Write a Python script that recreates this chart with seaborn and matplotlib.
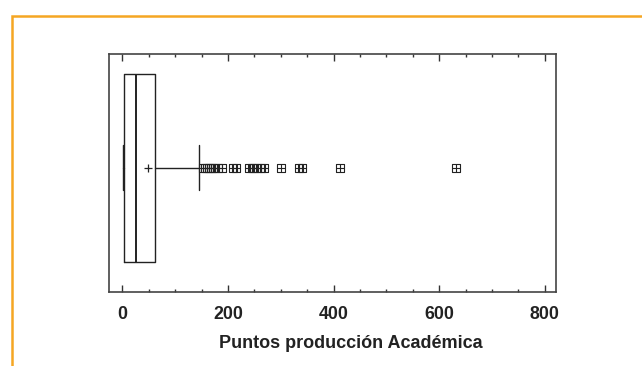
import numpy as np
import matplotlib
matplotlib.use("Agg")
import matplotlib.pyplot as plt
from matplotlib.path import Path
from matplotlib.patches import Rectangle
import seaborn as sns

# STYLE SETTINGS
sns.set_style("ticks")
plt.rcParams['font.family'] = ['Liberation Sans', 'DejaVu Sans']

# DATA (summary)
label = "Puntos producción Académica"
whisker_low = 0.5
q1 = 3
median = 25
mean = 48
q3 = 62
whisker_high = 145
outliers = [152, 156, 160, 164, 168, 172, 176, 182, 188,
            210, 216,
            240, 245, 250, 255, 262, 268,
            301, 335, 340, 413, 631]
xticks = [0, 200, 400, 600, 800]

stats = [{
    'whislo': whisker_low, 'q1': q1, 'med': median, 'mean': mean,
    'q3': q3, 'whishi': whisker_high, 'fliers': outliers, 'label': label,
}]

# square with a cross inside, used for the outliers
sq_plus = Path(
    [(-1, -1), (1, -1), (1, 1), (-1, 1), (-1, -1),
     (-1, 0), (1, 0), (0, -1), (0, 1)],
    [Path.MOVETO, Path.LINETO, Path.LINETO, Path.LINETO, Path.CLOSEPOLY,
     Path.MOVETO, Path.LINETO, Path.MOVETO, Path.LINETO]
)

fig = plt.figure(figsize=(6.42, 3.66), dpi=100)
ax = fig.add_axes([0.170, 0.2022, 0.696, 0.650])

line_c = '#222222'
ax.bxp(
    stats, positions=[1], widths=0.79, vert=False, showmeans=True,
    showfliers=True, capwidths=0.19,
    boxprops=dict(color=line_c, linewidth=1),
    medianprops=dict(color=line_c, linewidth=1.4),
    whiskerprops=dict(color=line_c, linewidth=1),
    capprops=dict(color=line_c, linewidth=1),
    meanprops=dict(marker='+', markeredgecolor=line_c, markersize=5.5,
                   markeredgewidth=0.9),
    flierprops=dict(marker=sq_plus, markerfacecolor='none',
                    markeredgecolor=line_c, markersize=5.8,
                    markeredgewidth=0.8),
)

ax.set_xlim(-25, 821)
ax.set_ylim(0.477, 1.477)
ax.set_yticks([])
ax.set_xticks(xticks)
ax.set_xticks(np.arange(0, 801, 50), minor=True)
ax.tick_params(axis='x', which='both', direction='in', top=True,
               bottom=True, color='#333333', width=1)
ax.tick_params(axis='x', which='major', length=5, labelsize=12.8, pad=10)
ax.tick_params(axis='x', which='minor', length=2.5)
for t in ax.get_xticklabels():
    t.set_fontweight('bold')
    t.set_color('#222222')
ax.set_xlabel(label, fontsize=13, fontweight='bold', color='#222222')
ax.xaxis.set_label_coords(0.541, -0.182)
for s in ax.spines.values():
    s.set_visible(True)
    s.set_color('#444444')
    s.set_linewidth(1.2)

# orange frame around the panel
fig.patches.append(Rectangle((12 / 642, -0.1), 1.2, 0.1 + 1 - 16 / 366,
                             transform=fig.transFigure, fill=False,
                             edgecolor='#F5A623', linewidth=1.8,
                             clip_on=False))

fig.savefig('out.png', dpi=100)
